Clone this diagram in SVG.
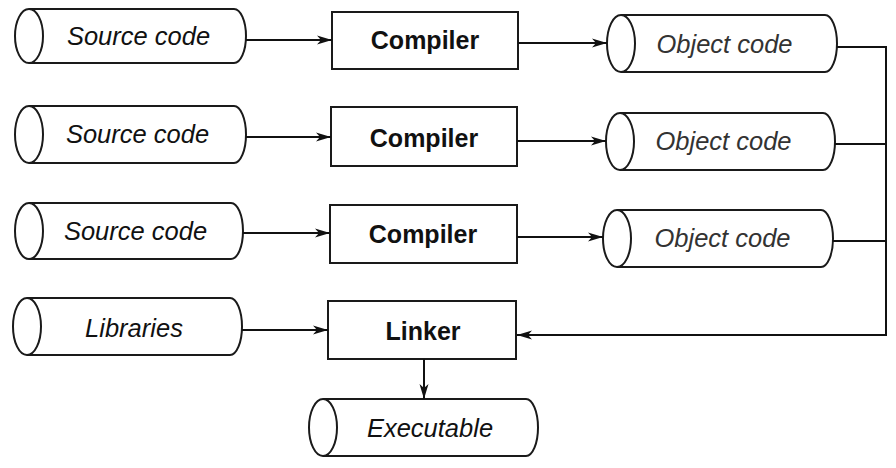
<svg xmlns="http://www.w3.org/2000/svg" width="896" height="468" viewBox="0 0 896 468">
<style>
.cyl{fill:#fff;stroke:#1a1a1a;stroke-width:2}
.box{fill:#fff;stroke:#1a1a1a;stroke-width:2}
.lbl{font-family:"Liberation Sans",Arial,sans-serif;font-size:25.5px;font-style:italic;fill:#111;text-anchor:middle}
.obj{fill:#333}
.bold{font-family:"Liberation Sans",Arial,sans-serif;font-size:25px;font-weight:bold;fill:#111;text-anchor:middle}
.con{fill:none;stroke:#111;stroke-width:2}
</style>
<defs>
<marker id="arr" markerWidth="16" markerHeight="12" refX="15" refY="6" orient="auto" markerUnits="userSpaceOnUse">
<path d="M0,1.5 L15,6 L0,10.5 L4,6 Z" fill="#111"/>
</marker>
</defs>
<rect width="896" height="468" fill="#fff"/>
<g id="src1">
<path class="cyl" d="M29,9 H234 A12 27 0 0 1 234,63 H29"/>
<ellipse class="cyl" cx="29" cy="36" rx="14" ry="27"/>
<text class="lbl" x="138.5" y="45">Source code</text>
</g>
<g id="src2">
<path class="cyl" d="M29,106 H234 A12 28.5 0 0 1 234,163 H29"/>
<ellipse class="cyl" cx="29" cy="134.5" rx="14" ry="28.5"/>
<text class="lbl" x="137.5" y="143">Source code</text>
</g>
<g id="src3">
<path class="cyl" d="M29,203 H231 A12 28 0 0 1 231,259 H29"/>
<ellipse class="cyl" cx="29" cy="231" rx="14" ry="28"/>
<text class="lbl" x="135.5" y="240">Source code</text>
</g>
<g id="lib">
<path class="cyl" d="M27,298 H230 A12 28.5 0 0 1 230,355 H27"/>
<ellipse class="cyl" cx="27" cy="326.5" rx="14" ry="28.5"/>
<text class="lbl" x="134" y="337">Libraries</text>
</g>
<g id="comp1">
<rect class="box" x="332" y="12" width="186" height="57"/>
<text class="bold" x="425" y="49">Compiler</text>
</g>
<g id="comp2">
<rect class="box" x="331" y="107" width="186" height="59"/>
<text class="bold" x="424" y="147">Compiler</text>
</g>
<g id="comp3">
<rect class="box" x="330" y="205" width="187" height="58"/>
<text class="bold" x="423" y="243">Compiler</text>
</g>
<g id="linker">
<rect class="box" x="328" y="301" width="188" height="58"/>
<text class="bold" x="423" y="340">Linker</text>
</g>
<g id="obj1">
<path class="cyl" d="M621,15 H825 A12 28.5 0 0 1 825,72 H621"/>
<ellipse class="cyl" cx="621" cy="43.5" rx="14" ry="28.5"/>
<text class="lbl obj" x="724.5" y="53">Object code</text>
</g>
<g id="obj2">
<path class="cyl" d="M620,113 H823 A12 28.5 0 0 1 823,170 H620"/>
<ellipse class="cyl" cx="620" cy="141.5" rx="14" ry="28.5"/>
<text class="lbl obj" x="723.5" y="150">Object code</text>
</g>
<g id="obj3">
<path class="cyl" d="M617,210 H821 A12 28.5 0 0 1 821,267 H617"/>
<ellipse class="cyl" cx="617" cy="238.5" rx="14" ry="28.5"/>
<text class="lbl obj" x="722.5" y="247">Object code</text>
</g>
<g id="exec">
<path class="cyl" d="M323,399 H526 A12 28.5 0 0 1 526,456 H323"/>
<ellipse class="cyl" cx="323" cy="427.5" rx="14" ry="28.5"/>
<text class="lbl" x="430" y="437">Executable</text>
</g>
<g id="connectors">
<line class="con" x1="246" y1="40" x2="332" y2="40" marker-end="url(#arr)"/>
<line class="con" x1="246" y1="137" x2="331" y2="137" marker-end="url(#arr)"/>
<line class="con" x1="243" y1="233" x2="330" y2="233" marker-end="url(#arr)"/>
<line class="con" x1="242" y1="330" x2="328" y2="330" marker-end="url(#arr)"/>
<line class="con" x1="518" y1="43" x2="607" y2="43" marker-end="url(#arr)"/>
<line class="con" x1="517" y1="141" x2="606" y2="141" marker-end="url(#arr)"/>
<line class="con" x1="517" y1="237" x2="603" y2="237" marker-end="url(#arr)"/>
<line class="con" x1="837" y1="47" x2="886" y2="47"/>
<line class="con" x1="835" y1="144" x2="886" y2="144"/>
<line class="con" x1="833" y1="241" x2="886" y2="241"/>
<polyline class="con" points="886,46 886,335 517,335" marker-end="url(#arr)"/>
<line class="con" x1="424" y1="359" x2="424" y2="399" marker-end="url(#arr)"/>
</g>
</svg>
